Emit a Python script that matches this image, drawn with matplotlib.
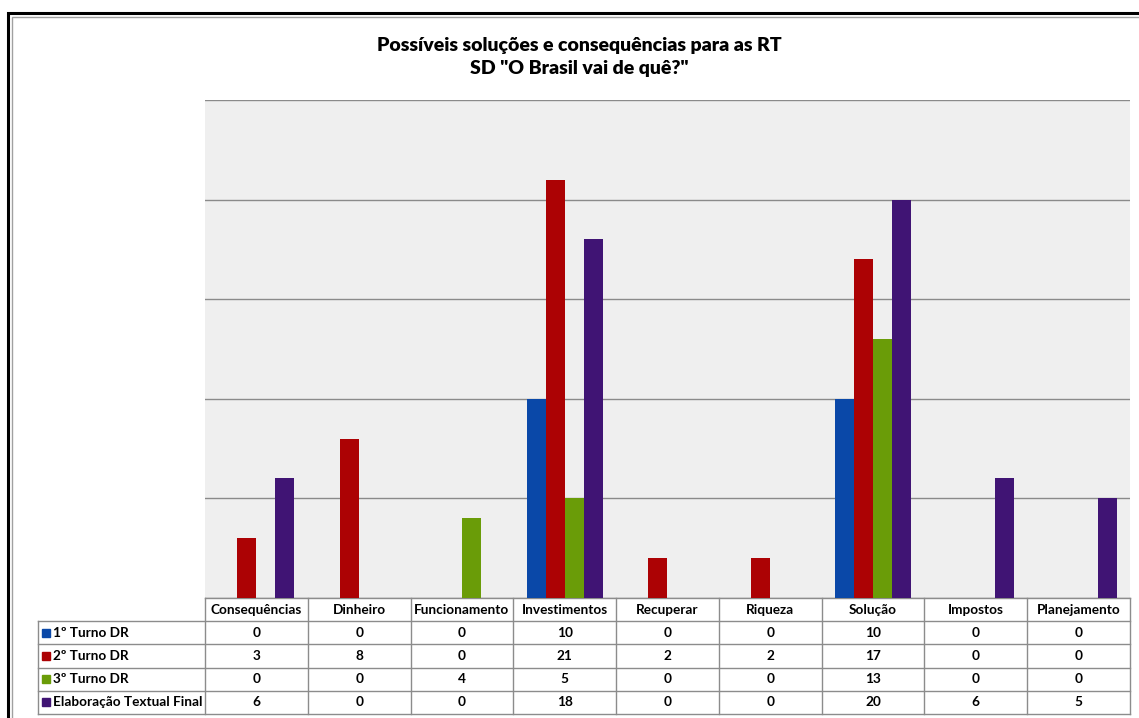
import matplotlib
matplotlib.use('agg')
import matplotlib.pyplot as plt
from matplotlib.patches import Rectangle
from matplotlib.lines import Line2D
import numpy as np

plt.rcParams['font.family'] = ['Lato', 'DejaVu Sans']

categories = ['Consequências', 'Dinheiro', 'Funcionamento', 'Investimentos', 'Recuperar',
              'Riqueza', 'Solução', 'Impostos', 'Planejamento']
series = ['1º Turno DR', '2º Turno DR', '3º Turno DR', 'Elaboração Textual Final']
turno1 = [0, 0, 0, 10, 0, 0, 10, 0, 0]
turno2 = [3, 8, 0, 21, 2, 2, 17, 0, 0]
turno3 = [0, 0, 4, 5, 0, 0, 13, 0, 0]
final = [6, 0, 0, 18, 0, 0, 20, 6, 5]
colors = ['#0a48a8', '#ac0204', '#6a9c08', '#401474']
title = 'Possíveis soluções e consequências para as RT\nSD "O Brasil vai de quê?"'

values = [turno1, turno2, turno3, final]

W, H = 1139, 718
fig = plt.figure(figsize=(W / 100, H / 100), dpi=100)

# frame around the chart
fig.add_artist(Rectangle((8 / W, -0.1), 1.2, 1 - 13 / H + 0.1, transform=fig.transFigure,
                         fill=False, ec='black', lw=2.2))
fig.add_artist(Rectangle((12 / W, -0.1), 1.2, 1 - 17 / H + 0.1, transform=fig.transFigure,
                         fill=False, ec='#a0a0a0', lw=1.0))

fig.text(579 / W, 1 - 57 / H, title, ha='center', va='center', fontsize=14,
         fontweight='heavy', linespacing=1.4)

x0, x1, y0, y1 = 205, 1130, 100, 598
ax = fig.add_axes([x0 / W, 1 - y1 / H, (x1 - x0) / W, (y1 - y0) / H])
ax.set_facecolor('#efefef')

x = np.arange(len(categories))
bw = 0.185
for i, (vals, c) in enumerate(zip(values, colors)):
    ax.bar(x + (i - 1.5) * bw, vals, width=bw, color=c, zorder=3)

ax.set_xlim(-0.5, len(categories) - 0.5)
ax.set_ylim(0, 25)
ax.set_yticks(np.arange(0, 26, 5))
ax.yaxis.grid(True, color='#8a8a8a', lw=1.0, zorder=1)
ax.set_axisbelow(True)
ax.tick_params(left=False, bottom=False, labelleft=False, labelbottom=False)
for s in ax.spines.values():
    s.set_visible(False)

# data table below the plot
ncol = len(categories)
rh = 23.2 / (y1 - y0)
lab_x = -(x0 - 38) / (x1 - x0)
gc = '#8c8c8c'
tr = ax.transAxes
fs = 9.8

def hline(xa, xb, y):
    ax.add_line(Line2D([xa, xb], [y, y], transform=tr, color=gc, lw=1.0, clip_on=False))

def vline(xv, ya, yb):
    ax.add_line(Line2D([xv, xv], [ya, yb], transform=tr, color=gc, lw=1.0, clip_on=False))

nrow = len(series)
bottom = -rh * (nrow + 1)
hline(0, 1, 0)
for r in range(1, nrow + 2):
    hline(lab_x, 1, -rh * r)
for c in range(ncol + 1):
    vline(c / ncol, 0, bottom)
vline(lab_x, -rh, bottom)

for c, cat in enumerate(categories):
    ax.text((c + 0.5) / ncol, -rh * 0.5, cat, transform=tr, ha='center', va='center',
            fontsize=fs, fontweight='bold')

for r, (name, vals, col) in enumerate(zip(series, values, colors)):
    yc = -rh * (r + 1.5)
    sq = 8 / (x1 - x0)
    sqh = 8 / (y1 - y0)
    ax.add_patch(Rectangle((lab_x + 4 / (x1 - x0), yc - sqh / 2), sq, sqh, transform=tr,
                           color=col, clip_on=False))
    ax.text(lab_x + 15 / (x1 - x0), yc, name, transform=tr, ha='left', va='center',
            fontsize=fs, fontweight='bold')
    for c, v in enumerate(vals):
        ax.text((c + 0.5) / ncol, yc, str(v), transform=tr, ha='center', va='center',
                fontsize=fs, fontweight='bold')

fig.savefig('out.png', dpi=100)
